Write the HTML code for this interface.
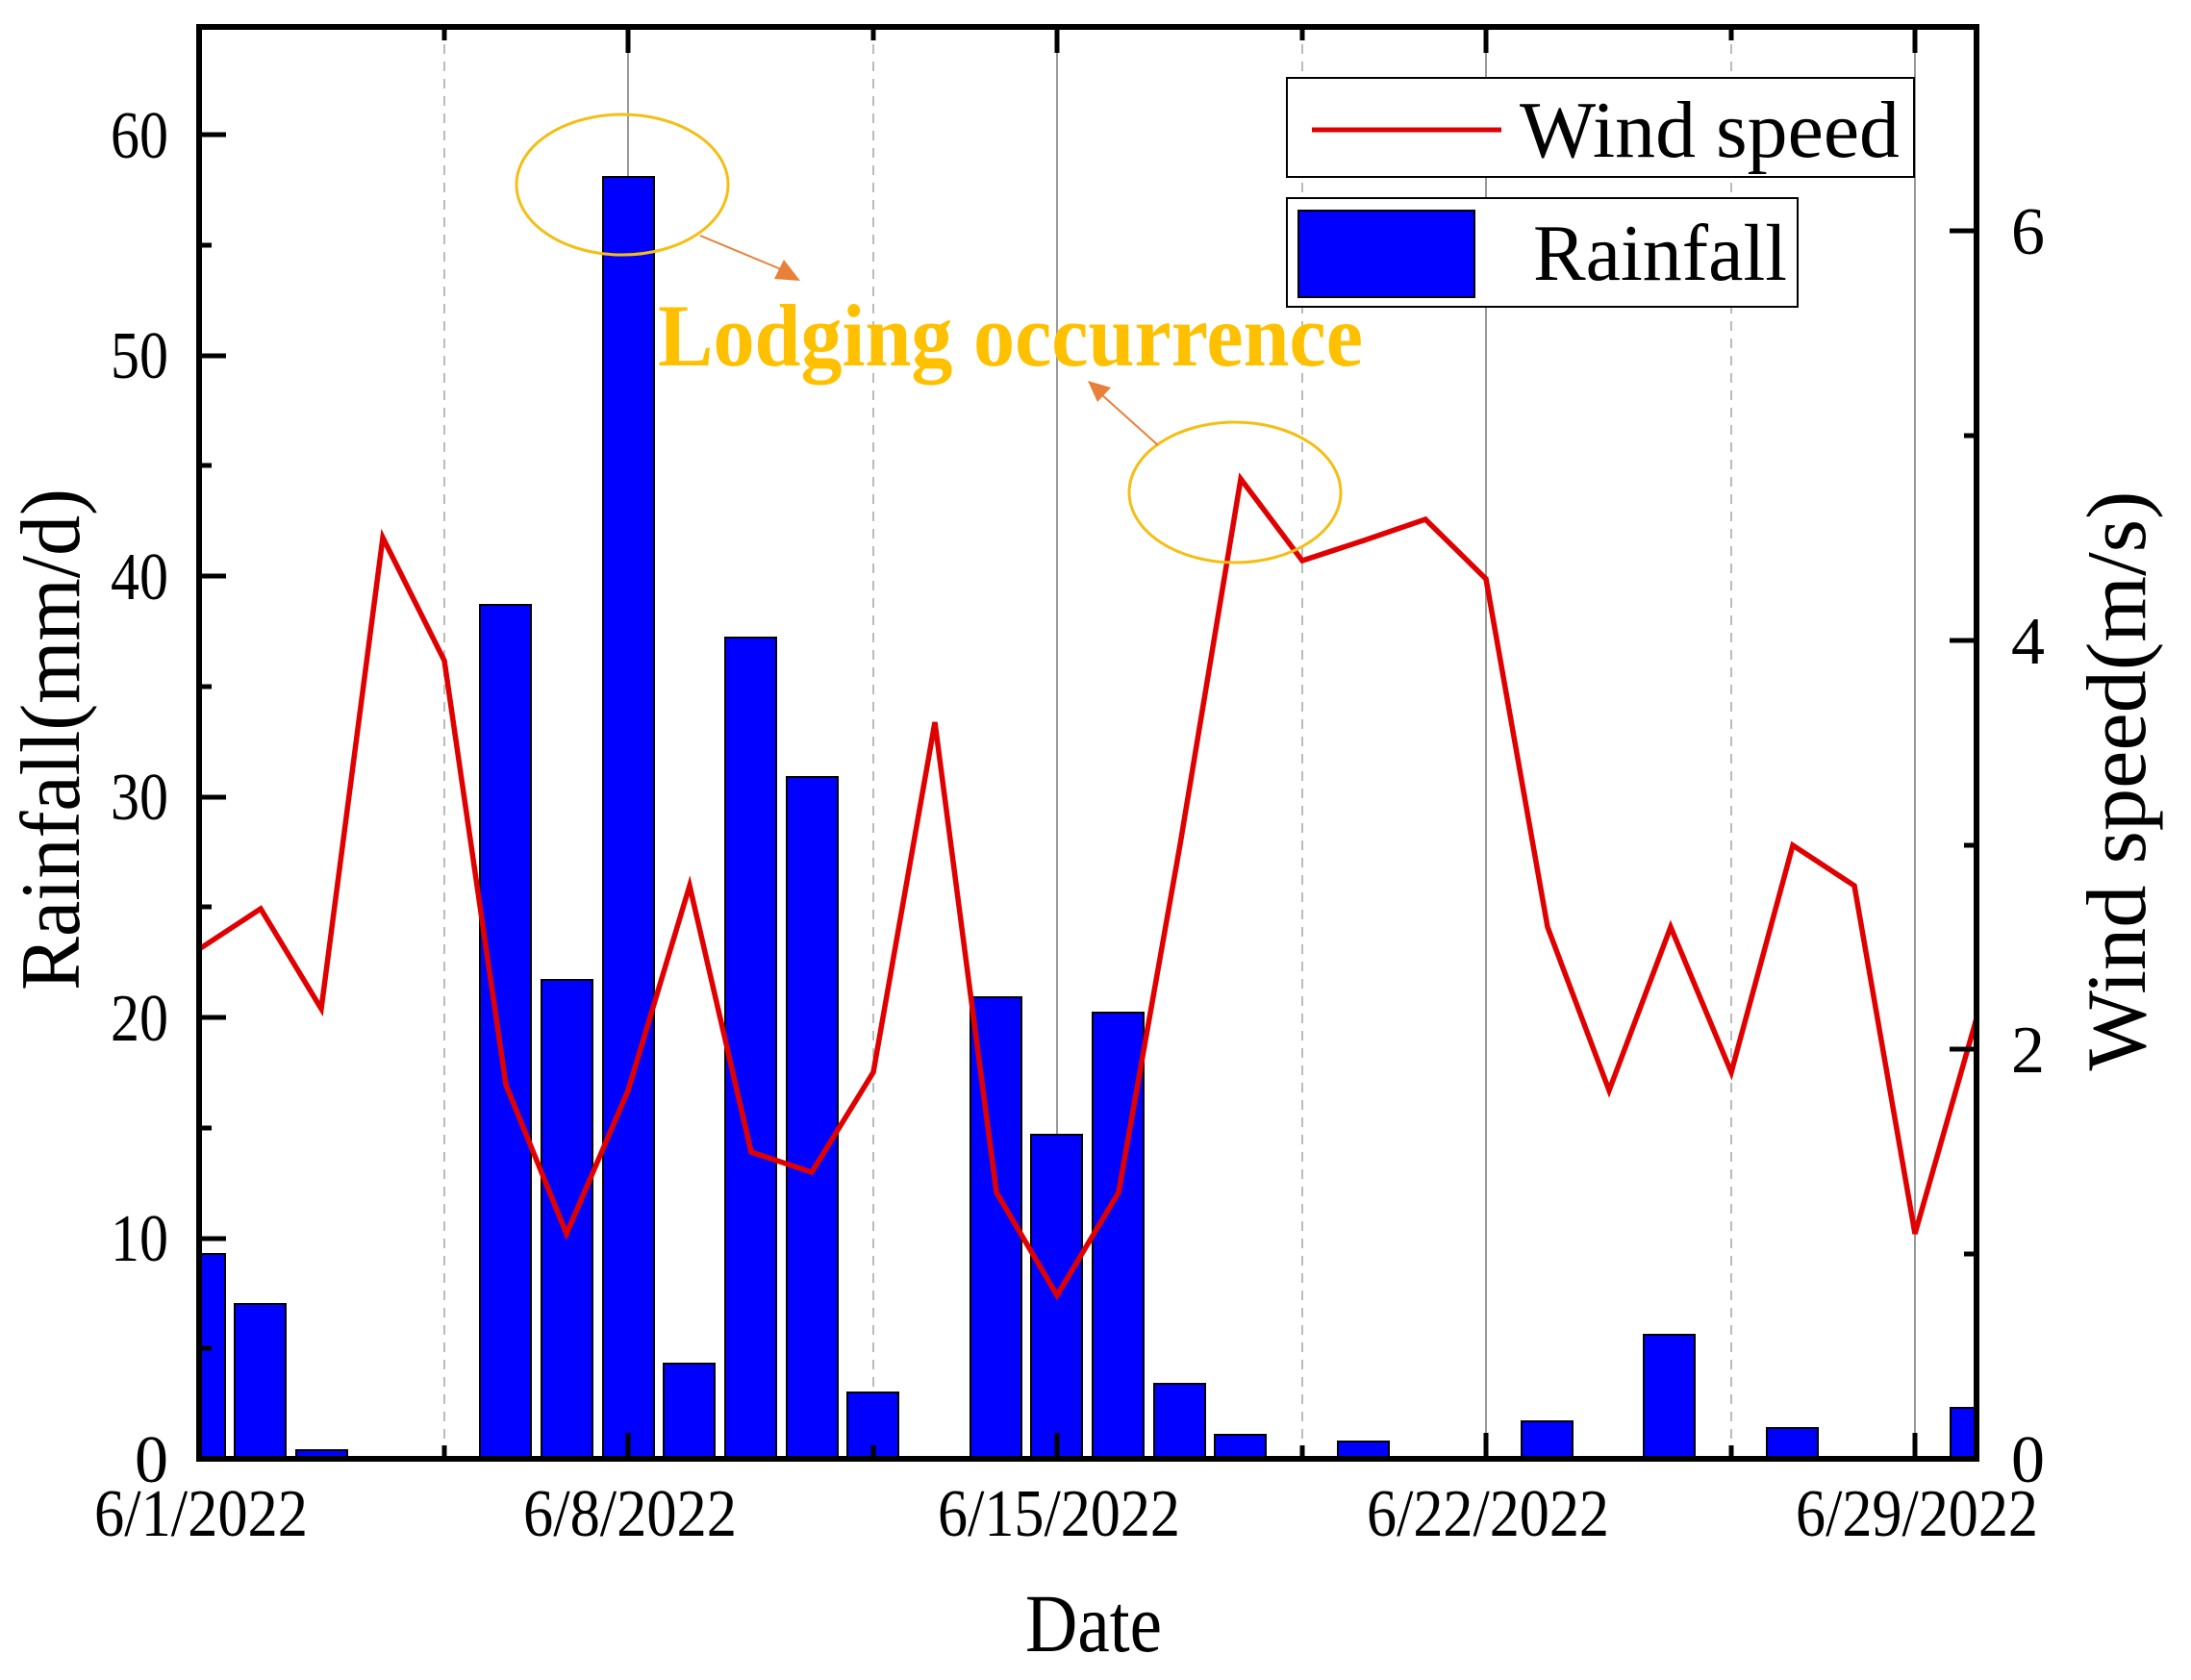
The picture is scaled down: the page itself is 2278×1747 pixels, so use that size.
<!DOCTYPE html>
<html><head><meta charset="utf-8"><style>html,body{margin:0;padding:0;background:#fff}svg{display:block}</style></head>
<body>
<svg width="2278" height="1747" viewBox="0 0 2278 1747" xmlns="http://www.w3.org/2000/svg" font-family="Liberation Serif, serif">
<defs><clipPath id="c"><rect x="207" y="28" width="1848" height="1489"/></clipPath></defs>
<g id="grid">
<line x1="653" y1="28" x2="653" y2="1517" stroke="#999" stroke-width="2"/>
<line x1="1099" y1="28" x2="1099" y2="1517" stroke="#999" stroke-width="2"/>
<line x1="1545" y1="28" x2="1545" y2="1517" stroke="#999" stroke-width="2"/>
<line x1="1991" y1="28" x2="1991" y2="1517" stroke="#999" stroke-width="2"/>
<g stroke="#bbb" stroke-width="2" stroke-dasharray="10,8">
<line x1="462" y1="28" x2="462" y2="1517"/><line x1="908" y1="28" x2="908" y2="1517"/>
<line x1="1354" y1="28" x2="1354" y2="1517"/><line x1="1800" y1="28" x2="1800" y2="1517"/>
</g></g>
<g clip-path="url(#c)" fill="#0000FF" stroke="#000" stroke-width="2">
<rect x="181" y="1304" width="53" height="213"/>
<rect x="244" y="1356" width="53" height="161"/>
<rect x="308" y="1508" width="53" height="9"/>
<rect x="499" y="629" width="53" height="888"/>
<rect x="563" y="1019" width="53" height="498"/>
<rect x="627" y="184" width="53" height="1333"/>
<rect x="690" y="1418" width="53" height="99"/>
<rect x="754" y="663" width="53" height="854"/>
<rect x="818" y="808" width="53" height="709"/>
<rect x="881" y="1448" width="53" height="69"/>
<rect x="1009" y="1037" width="53" height="480"/>
<rect x="1072" y="1180" width="53" height="337"/>
<rect x="1136" y="1053" width="53" height="464"/>
<rect x="1200" y="1439" width="53" height="78"/>
<rect x="1263" y="1492" width="53" height="25"/>
<rect x="1391" y="1499" width="53" height="18"/>
<rect x="1582" y="1478" width="53" height="39"/>
<rect x="1709" y="1388" width="53" height="129"/>
<rect x="1837" y="1485" width="53" height="32"/>
<rect x="2028" y="1464" width="53" height="53"/>
</g>
<polyline clip-path="url(#c)" fill="none" stroke="#E00000" stroke-width="5.5" stroke-linejoin="miter"
points="207,987 271,945 334,1049 398,559 462,687 526,1128 589,1283 653,1134 717,921 781,1198 844,1219 908,1115 972,751 1036,1240 1099,1347 1163,1240 1227,878 1290,498 1354,583 1418,562 1482,540 1545,602 1609,964 1673,1134 1737,964 1800,1115 1864,879 1928,921 1991,1283 2055,1059"/>
<rect x="207" y="28" width="1848" height="1489" fill="none" stroke="#000" stroke-width="6"/>
<g stroke="#000" stroke-width="5">
<line x1="207" y1="1058" x2="235" y2="1058"/><line x1="207" y1="829" x2="235" y2="829"/><line x1="207" y1="599" x2="235" y2="599"/><line x1="207" y1="370" x2="235" y2="370"/><line x1="207" y1="140" x2="235" y2="140"/><line x1="207" y1="1288" x2="235" y2="1288"/>
<line x1="207" y1="1402" x2="220" y2="1402"/><line x1="207" y1="1173" x2="220" y2="1173"/><line x1="207" y1="943" x2="220" y2="943"/><line x1="207" y1="714" x2="220" y2="714"/><line x1="207" y1="484" x2="220" y2="484"/><line x1="207" y1="255" x2="220" y2="255"/>
<line x1="2055" y1="1091" x2="2027" y2="1091"/><line x1="2055" y1="666" x2="2027" y2="666"/><line x1="2055" y1="240" x2="2027" y2="240"/>
<line x1="2055" y1="1304" x2="2042" y2="1304"/><line x1="2055" y1="879" x2="2042" y2="879"/><line x1="2055" y1="453" x2="2042" y2="453"/>
<line x1="653" y1="1517" x2="653" y2="1490"/><line x1="1099" y1="1517" x2="1099" y2="1490"/><line x1="1545" y1="1517" x2="1545" y2="1490"/><line x1="1991" y1="1517" x2="1991" y2="1490"/>
<line x1="462" y1="1517" x2="462" y2="1503"/><line x1="908" y1="1517" x2="908" y2="1503"/><line x1="1354" y1="1517" x2="1354" y2="1503"/><line x1="1800" y1="1517" x2="1800" y2="1503"/>
<line x1="653" y1="28" x2="653" y2="55"/><line x1="1099" y1="28" x2="1099" y2="55"/><line x1="1545" y1="28" x2="1545" y2="55"/><line x1="1991" y1="28" x2="1991" y2="55"/>
<line x1="462" y1="28" x2="462" y2="42"/><line x1="908" y1="28" x2="908" y2="42"/><line x1="1354" y1="28" x2="1354" y2="42"/><line x1="1800" y1="28" x2="1800" y2="42"/>
</g>
<g font-size="70" fill="#000" text-anchor="end">
<text x="175" y="1541">0</text><text x="175" y="1311" textLength="60" lengthAdjust="spacingAndGlyphs">10</text><text x="175" y="1082" textLength="60" lengthAdjust="spacingAndGlyphs">20</text><text x="175" y="852" textLength="60" lengthAdjust="spacingAndGlyphs">30</text><text x="175" y="623" textLength="60" lengthAdjust="spacingAndGlyphs">40</text><text x="175" y="393" textLength="60" lengthAdjust="spacingAndGlyphs">50</text><text x="175" y="164" textLength="60" lengthAdjust="spacingAndGlyphs">60</text>
</g>
<g font-size="70" fill="#000">
<text x="2091" y="1541">0</text><text x="2091" y="1115">2</text><text x="2091" y="690">4</text><text x="2091" y="264">6</text>
</g>
<g font-size="70" fill="#000" text-anchor="middle">
<text x="209" y="1597" textLength="222" lengthAdjust="spacingAndGlyphs">6/1/2022</text><text x="655" y="1597" textLength="222" lengthAdjust="spacingAndGlyphs">6/8/2022</text><text x="1101" y="1597" textLength="252" lengthAdjust="spacingAndGlyphs">6/15/2022</text><text x="1547" y="1597" textLength="252" lengthAdjust="spacingAndGlyphs">6/22/2022</text><text x="1993" y="1597" textLength="252" lengthAdjust="spacingAndGlyphs">6/29/2022</text>
</g>
<text x="1137" y="1717" font-size="86" text-anchor="middle" textLength="142" lengthAdjust="spacingAndGlyphs">Date</text>
<text transform="translate(82,769) rotate(-90)" font-size="88" text-anchor="middle" textLength="522" lengthAdjust="spacingAndGlyphs">Rainfall(mm/d)</text>
<text transform="translate(2230,812) rotate(-90)" font-size="88" text-anchor="middle" textLength="603" lengthAdjust="spacingAndGlyphs">Wind speed(m/s)</text>
<rect x="1338" y="81" width="652" height="103" fill="#fff" stroke="#000" stroke-width="2"/>
<line x1="1364" y1="135" x2="1561" y2="135" stroke="#E00000" stroke-width="5"/>
<text x="1580" y="163" font-size="84" textLength="395" lengthAdjust="spacingAndGlyphs">Wind speed</text>
<rect x="1338" y="206" width="531" height="113" fill="#fff" stroke="#000" stroke-width="2"/>
<rect x="1350" y="219" width="183" height="90" fill="#0000FF" stroke="#000" stroke-width="2"/>
<text x="1594" y="291" font-size="84" textLength="264" lengthAdjust="spacingAndGlyphs">Rainfall</text>
<ellipse cx="647" cy="192" rx="110" ry="73" fill="none" stroke="#F5BE14" stroke-width="3"/>
<ellipse cx="1284" cy="512" rx="110" ry="73" fill="none" stroke="#F5BE14" stroke-width="3"/>
<line x1="728" y1="245" x2="812" y2="280" stroke="#E8803A" stroke-width="2"/>
<polygon points="832,292 805,290 815,270" fill="#E8803A"/>
<line x1="1204" y1="463" x2="1145" y2="410" stroke="#E8803A" stroke-width="2"/>
<polygon points="1131,396 1155,403 1141,418" fill="#E8803A"/>
<text x="684" y="380" font-size="92" font-weight="bold" fill="#FFC000" textLength="733" lengthAdjust="spacingAndGlyphs">Lodging occurrence</text>
</svg>
</body></html>
